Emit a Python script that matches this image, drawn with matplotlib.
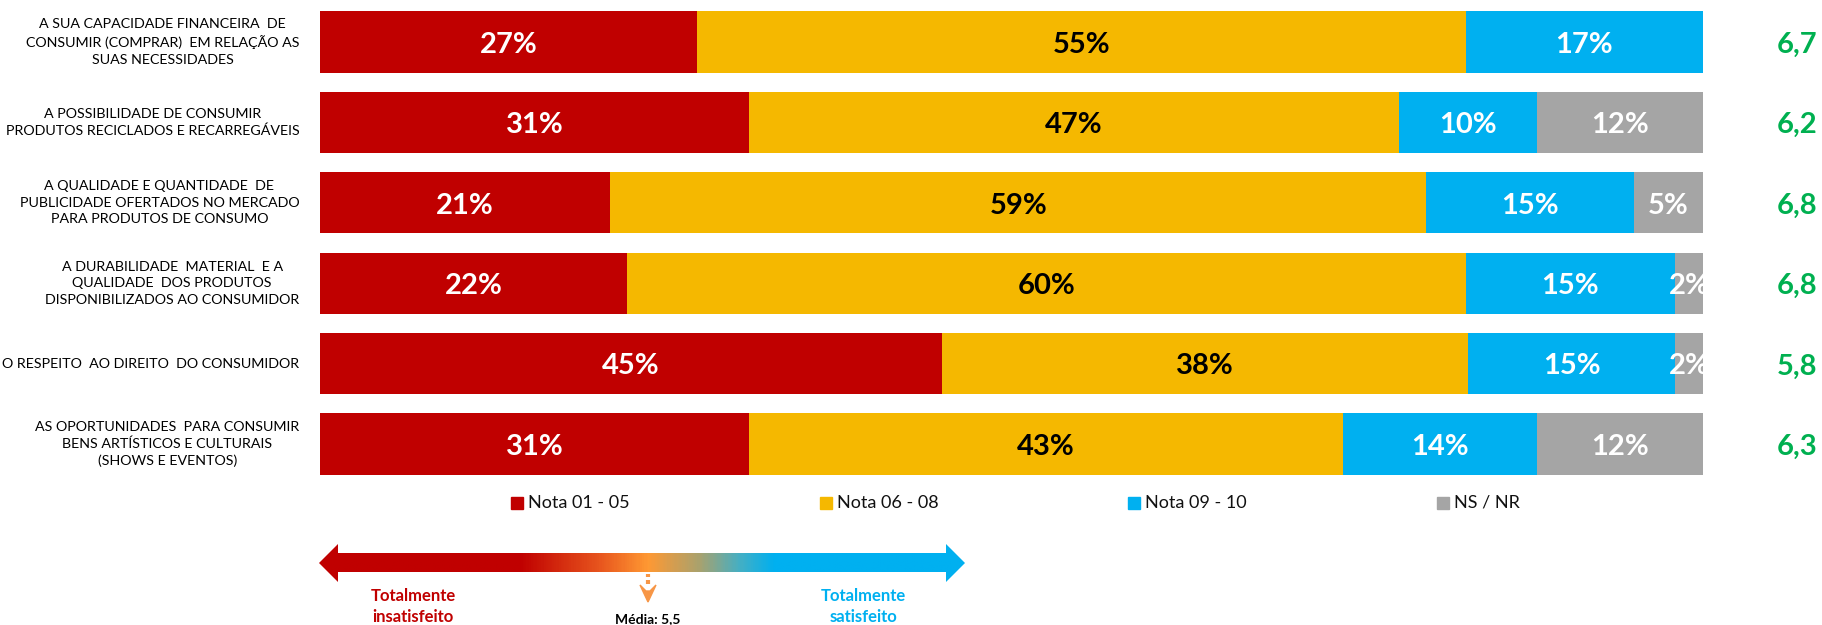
import numpy as np
import matplotlib
matplotlib.use("Agg")
import matplotlib.pyplot as plt
from matplotlib import transforms
from matplotlib.colors import LinearSegmentedColormap
from matplotlib.patches import Polygon

plt.rcParams['font.family'] = ['Lato', 'DejaVu Sans']

# data
categories = [
    "A SUA CAPACIDADE FINANCEIRA  DE\nCONSUMIR (COMPRAR)  EM RELAÇÃO AS\nSUAS NECESSIDADES",
    "A POSSIBILIDADE DE CONSUMIR\nPRODUTOS RECICLADOS E RECARREGÁVEIS",
    "A QUALIDADE E QUANTIDADE  DE\nPUBLICIDADE OFERTADOS NO MERCADO\nPARA PRODUTOS DE CONSUMO",
    "A DURABILIDADE  MATERIAL  E A\nQUALIDADE  DOS PRODUTOS\nDISPONIBILIZADOS AO CONSUMIDOR",
    "O RESPEITO  AO DIREITO  DO CONSUMIDOR",
    "AS OPORTUNIDADES  PARA CONSUMIR\nBENS ARTÍSTICOS E CULTURAIS\n(SHOWS E EVENTOS)",
]
series = ["Nota 01 - 05", "Nota 06 - 08", "Nota 09 - 10", "NS / NR"]
nota_01_05 = [27, 31, 21, 22, 45, 31]
nota_06_08 = [55, 47, 59, 60, 38, 43]
nota_09_10 = [17, 10, 15, 15, 15, 14]
ns_nr = [0, 12, 5, 2, 2, 12]
medias = ["6,7", "6,2", "6,8", "6,8", "5,8", "6,3"]
media_geral = 5.5

colors = ["#C00000", "#F5B800", "#00B0F0", "#A5A5A5"]
label_colors = ["white", "black", "white", "white"]

vals = np.array([nota_01_05, nota_06_08, nota_09_10, ns_nr], dtype=float)
# 100% stacked, like the original spreadsheet
shares = vals / vals.sum(axis=0) * 100

W, H = 1822, 625
fig = plt.figure(figsize=(W / 100, H / 100), dpi=100)
ax = fig.add_axes([320 / W, 1 - 484.2 / H, 1383 / W, 482.4 / H])

y = np.arange(len(categories))
left = np.zeros(len(categories))
for k in range(len(series)):
    ax.barh(y, shares[k], left=left, height=0.76, color=colors[k], label=series[k])
    for i in range(len(categories)):
        if vals[k, i] > 0:
            ax.text(left[i] + shares[k, i] / 2, i + 0.035, f"{int(vals[k, i])}%",
                    ha='center', va='center', fontsize=21, fontweight='bold',
                    color=label_colors[k], clip_on=True)
    left += shares[k]

ax.set_xlim(0, 100)
ax.set_ylim(len(categories) - 0.5, -0.5)
ax.axis('off')

trans = transforms.blended_transform_factory(ax.transAxes, ax.transData)
for i, cat in enumerate(categories):
    ax.text(-0.015, i, cat, transform=trans, ha='right', va='center',
            multialignment='center', fontsize=10.3, linespacing=1.45, color='black')
    ax.text(1.068, i + 0.035, medias[i], transform=trans, ha='center', va='center',
            fontsize=21, fontweight='bold', color='#00B050', clip_on=False)

# overlay in pixel coordinates for legend and scale arrow
ov = fig.add_axes([0, 0, 1, 1])
ov.set_xlim(0, W)
ov.set_ylim(H, 0)
ov.axis('off')
ov.patch.set_alpha(0)

leg_x = [511, 820, 1128, 1437]
for k, name in enumerate(series):
    ov.add_patch(plt.Rectangle((leg_x[k], 497), 12, 12, color=colors[k]))
    ov.text(leg_x[k] + 17, 503, name, ha='left', va='center', fontsize=13, color='#111111')

# gradient double arrow
x0, x1, yc = 319, 965, 563
arrow = Polygon([(x0, yc), (338, 544), (338, 553), (946, 553), (946, 544), (x1, yc),
                 (946, 582), (946, 572), (338, 572), (338, 582)], closed=True,
                facecolor='none', edgecolor='none')
ov.add_patch(arrow)
stops = [(0.0, "#C00000"), ((520 - x0) / (x1 - x0), "#C00000"),
         ((600 - x0) / (x1 - x0), "#E8561E"), ((648 - x0) / (x1 - x0), "#FF9933"),
         ((700 - x0) / (x1 - x0), "#A9A26E"), ((740 - x0) / (x1 - x0), "#45AFC4"),
         ((775 - x0) / (x1 - x0), "#00B0F0"), (1.0, "#00B0F0")]
cmap = LinearSegmentedColormap.from_list("escala", stops)
grad = np.linspace(0, 1, 600).reshape(1, -1)
im = ov.imshow(grad, cmap=cmap, extent=[x0, x1, 582, 544], aspect='auto', interpolation='bilinear')
im.set_clip_path(arrow)

ov.text(413, 596, "Totalmente", ha='center', va='center', fontsize=12, fontweight='bold', color='#C00000')
ov.text(413, 617, "insatisfeito", ha='center', va='center', fontsize=12, fontweight='bold', color='#C00000')
ov.text(863, 596, "Totalmente", ha='center', va='center', fontsize=12, fontweight='bold', color='#00B0F0')
ov.text(863, 617, "satisfeito", ha='center', va='center', fontsize=12, fontweight='bold', color='#00B0F0')

# media marker (dotted down arrow)
mx = 648
ov.plot([mx, mx], [574, 577], color='#F79646', lw=3, solid_capstyle='butt')
ov.plot([mx, mx], [580, 584], color='#F79646', lw=3, solid_capstyle='butt')
ov.add_patch(Polygon([(mx - 8, 585), (mx - 2, 591), (mx + 2, 591), (mx + 8, 585),
                      (mx, 602)], closed=True, color='#F79646'))
ov.text(mx, 619, f"Média: {media_geral:.1f}".replace('.', ','), ha='center', va='center',
        fontsize=10, fontweight='bold', color='black')

fig.savefig("out.png", dpi=100)
